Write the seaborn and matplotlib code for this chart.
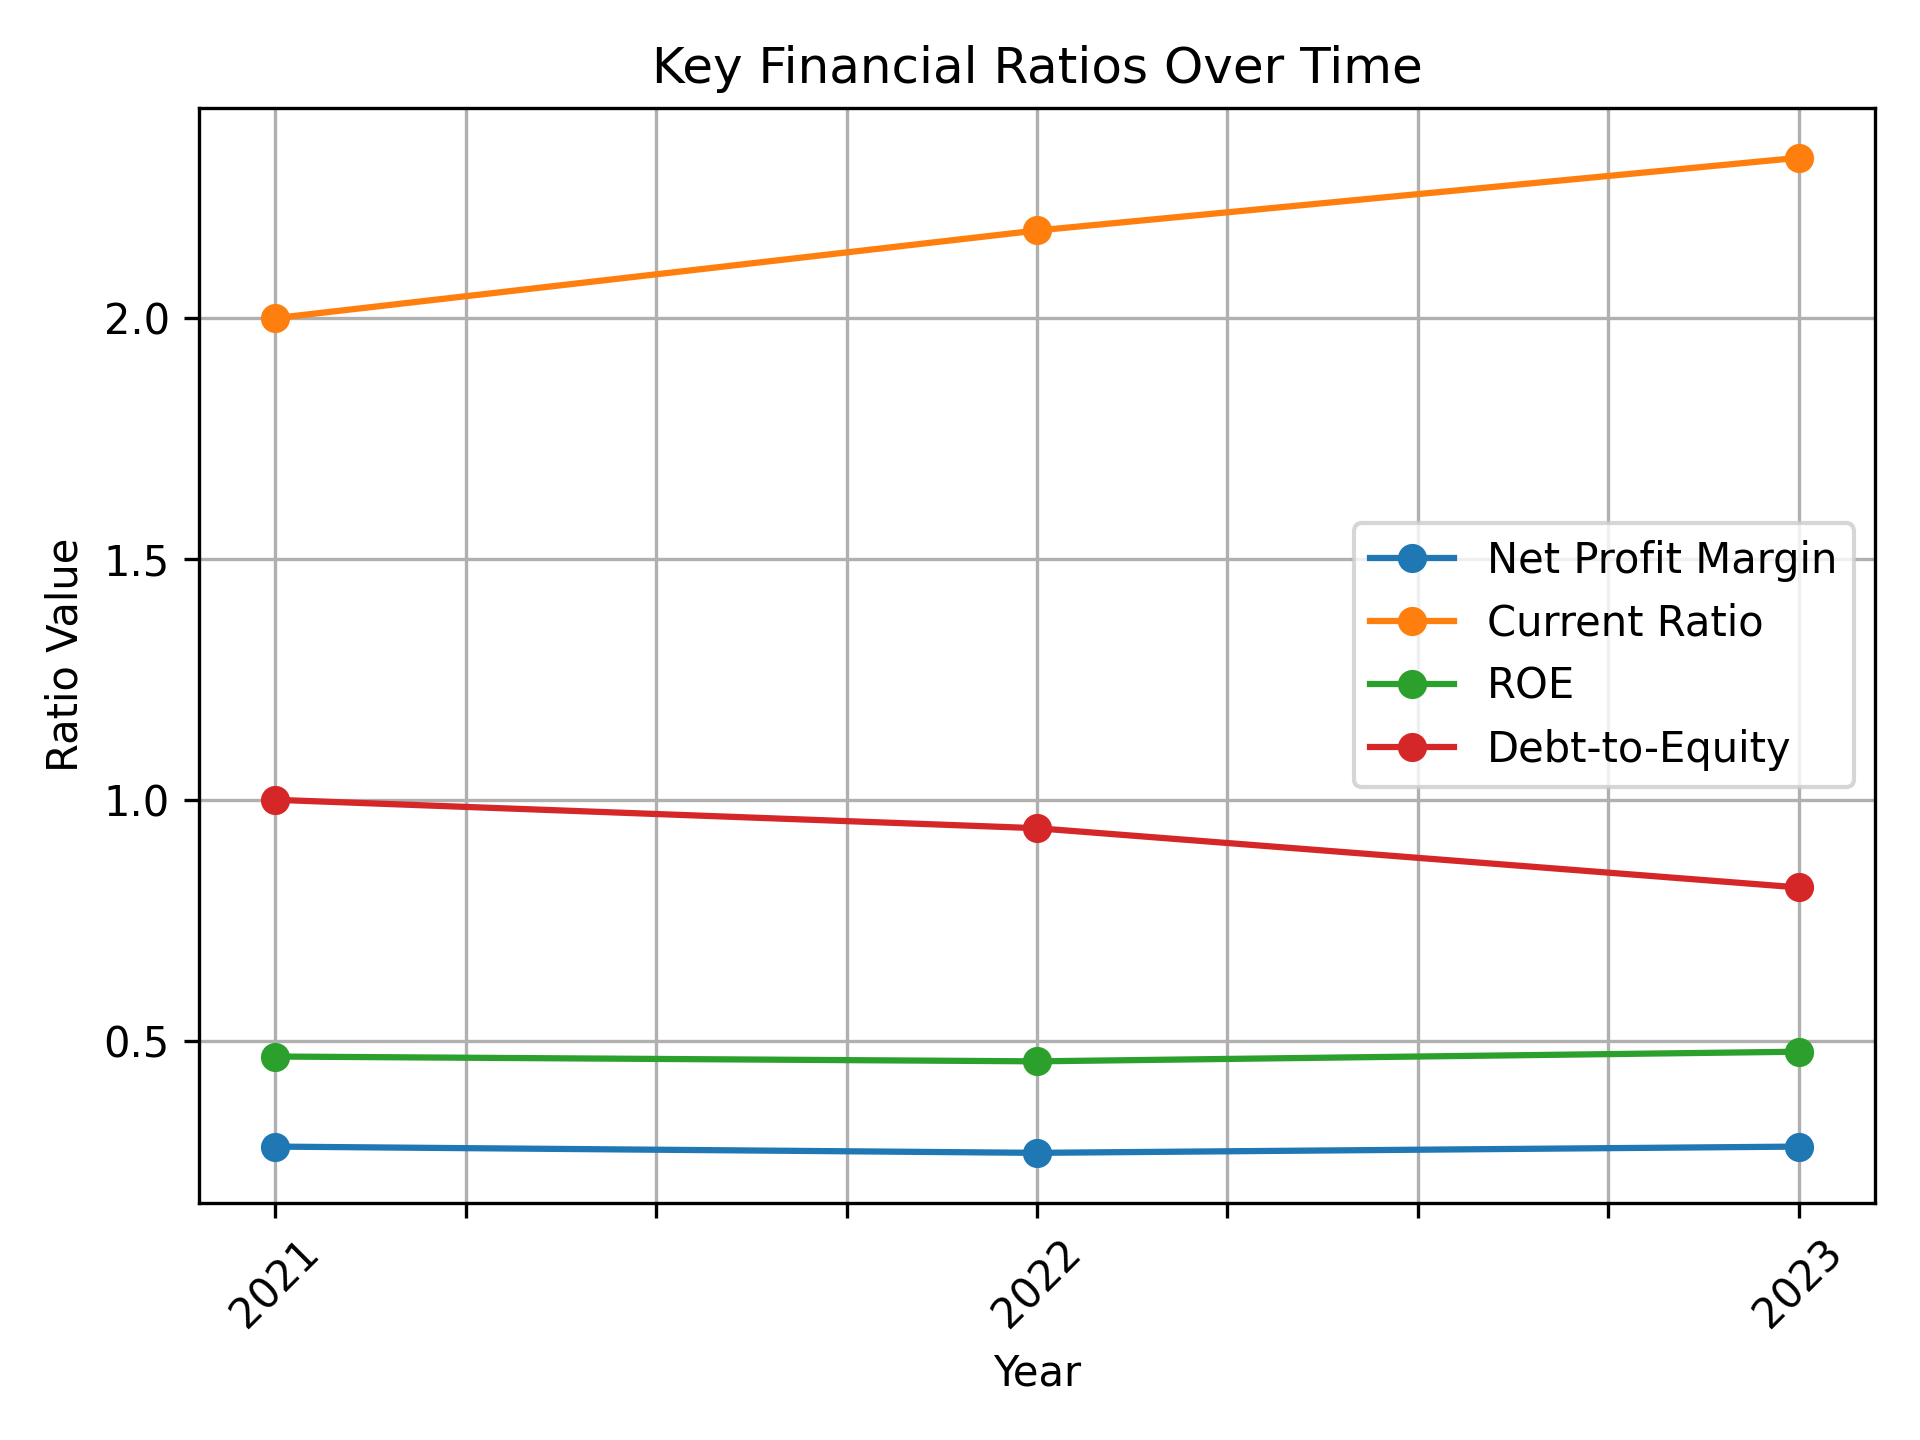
import pandas as pd
import numpy as np
import matplotlib.pyplot as plt
import matplotlib.ticker as mticker
import seaborn as sns

# Data
years = [2021, 2022, 2023]
net_profit_margin = [0.28, 0.267, 0.28]
current_ratio = [2.0, 2.182, 2.333]
roe = [0.467, 0.457, 0.477]
debt_to_equity = [1.0, 0.941, 0.818]

ratio_names = ['Net Profit Margin', 'Current Ratio', 'ROE', 'Debt-to-Equity']

df = pd.DataFrame({
    'Year': years,
    'Net Profit Margin': net_profit_margin,
    'Current Ratio': current_ratio,
    'ROE': roe,
    'Debt-to-Equity': debt_to_equity,
})
long_df = df.melt(id_vars='Year', var_name='Ratio', value_name='Value')

fig, ax = plt.subplots(figsize=(6.4, 4.8), dpi=300)
sns.lineplot(data=long_df, x='Year', y='Value', hue='Ratio', hue_order=ratio_names,
             palette=sns.color_palette('tab10', 4), marker='o', markersize=7,
             markeredgewidth=0, linewidth=1.5, ax=ax)

ax.set_title('Key Financial Ratios Over Time')
ax.set_xlabel('Year')
ax.set_ylabel('Ratio Value')

# quarter-year ticks, labels only on whole years
ax.set_xticks(np.arange(2021, 2023.01, 0.25))
ax.xaxis.set_major_formatter(mticker.FuncFormatter(
    lambda v, pos: str(int(round(v))) if abs(v - round(v)) < 1e-6 else ''))
plt.setp(ax.get_xticklabels(), rotation=45)

ax.grid(True)
handles, labels = ax.get_legend_handles_labels()
ax.legend(handles, labels, loc='center right')

plt.tight_layout()
plt.savefig('out.png')
plt.close()
